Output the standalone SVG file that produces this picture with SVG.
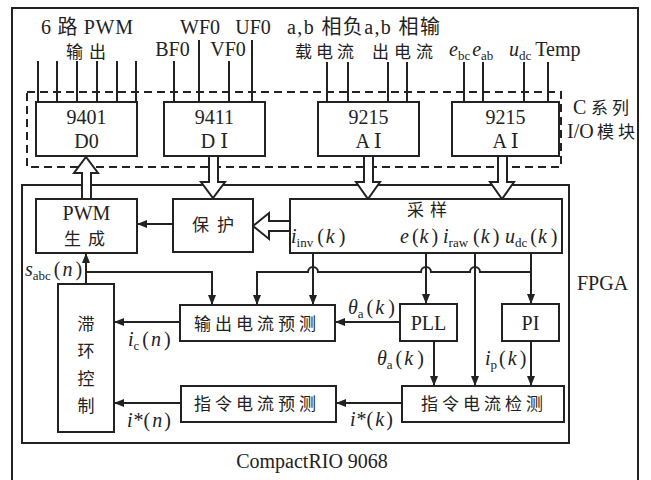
<svg xmlns="http://www.w3.org/2000/svg" width="651" height="480" viewBox="0 0 651 480">
<defs>
<style>
.b{fill:#fff;stroke:#222;stroke-width:2}
.l{fill:none;stroke:#222;stroke-width:2}
.la{fill:none;stroke:#222;stroke-width:2;marker-end:url(#ah)}
.d{fill:none;stroke:#222;stroke-width:2;stroke-dasharray:8 5}
.h{fill:#fff;stroke:#222;stroke-width:2;stroke-linejoin:miter}
text{font-family:"Liberation Serif","Noto Sans CJK SC",serif;font-size:20px;fill:#222}
.c{font-family:"Noto Sans CJK SC",sans-serif;font-size:17px}
.m{text-anchor:middle}
.i{font-style:italic}
.s{font-size:13px}
.r{font-family:"DejaVu Serif","Liberation Serif","Noto Sans CJK SC",serif}
</style>
<marker id="ah" markerWidth="10" markerHeight="8" refX="10" refY="4" orient="auto" markerUnits="userSpaceOnUse">
<path d="M0,0 L10,4 L0,8 z" fill="#222"/>
</marker>
</defs>

<rect id="compactrio" class="l" x="12" y="8" width="626" height="480"/>
<rect id="io-modules" class="d" x="27" y="92" width="534" height="75"/>
<rect id="fpga" class="l" x="22" y="185" width="547" height="258"/>

<g id="connectors">
<path class="l" d="M38,61V102M57,61V102M77,61V102M97,61V102M117,61V102M136,61V102"/>
<path class="l" d="M174,61V102M199,40V102M229,61V102M252,40V102"/>
<path class="l" d="M327,62V102M348,62V102M388,62V102M407,62V102"/>
<path class="l" d="M464,62V102M483,62V102M524,62V102M548,62V102"/>

<polygon class="h" points="82,199 82,173 74,173 86,157 98,173 91,173 91,199"/>
<polygon class="h" points="209,156 218,156 218,182 225,182 213,198 201,182 209,182"/>
<polygon class="h" points="364,156 373,156 373,182 380,182 368,199 356,182 364,182"/>
<polygon class="h" points="498,156 507,156 507,182 514,182 502,199 490,182 498,182"/>
<polygon class="h" points="290,221 269,221 269,213 253,226 269,239 269,231 290,231"/>

<line class="la" x1="173" y1="224" x2="137" y2="224"/>
<line class="la" x1="86" y1="284" x2="86" y2="253"/>
<path class="la" d="M86,272H212V305"/>
<line class="la" x1="313" y1="253" x2="313" y2="305"/>
<path class="la" d="M531,272H480A5,5 0 0 0 470,272H431A5,5 0 0 0 421,272H318A5,5 0 0 0 308,272H257V305"/>
<line class="la" x1="426" y1="253" x2="426" y2="304"/>
<line class="la" x1="475" y1="253" x2="475" y2="386"/>
<line class="la" x1="531" y1="253" x2="531" y2="304"/>
<line class="la" x1="400" y1="322" x2="335" y2="322"/>
<line class="la" x1="434" y1="341" x2="434" y2="386"/>
<line class="la" x1="531" y1="341" x2="531" y2="386"/>
<line class="la" x1="402" y1="403" x2="336" y2="403"/>
<line class="la" x1="180" y1="322" x2="114" y2="322"/>
<line class="la" x1="181" y1="403" x2="114" y2="403"/>
</g>

<g id="n9401"><rect class="b" x="36" y="102" width="101" height="54"/>
<text class="m" x="86.5" y="124">9401</text><text class="m" x="86.5" y="148">D0</text></g>
<g id="n9411"><rect class="b" x="164" y="102" width="101" height="54"/>
<text class="m" x="214.5" y="124">9411</text><text class="m" x="214.5" y="148">D <tspan class="r">Ⅰ</tspan></text></g>
<g id="n9215a"><rect class="b" x="318" y="102" width="101" height="54"/>
<text class="m" x="368.5" y="124">9215</text><text class="m" x="368.5" y="148">A <tspan class="r">Ⅰ</tspan></text></g>
<g id="n9215b"><rect class="b" x="452" y="102" width="107" height="54"/>
<text class="m" x="505.5" y="124">9215</text><text class="m" x="505.5" y="148">A <tspan class="r">Ⅰ</tspan></text></g>

<g id="pwm"><rect class="b" x="36" y="199" width="101" height="54"/>
<text class="m" x="86.5" y="220">PWM</text>
<text class="c" x="64" y="245" letter-spacing="7">生成</text></g>
<g id="protect"><rect class="b" x="173" y="199" width="80" height="53"/>
<text class="c" x="192" y="231" letter-spacing="8">保护</text></g>
<g id="sample"><rect class="b" x="290" y="199" width="272" height="54"/>
<text class="c" x="407" y="216" letter-spacing="6">采样</text>
<text x="291" y="243"><tspan class="i">i</tspan><tspan class="s" dy="4">inv</tspan><tspan dy="-4" dx="4">(</tspan><tspan class="i" dx="2">k</tspan><tspan dx="4">)</tspan></text>
<text x="400" y="243"><tspan class="i">e</tspan><tspan dx="3">(</tspan><tspan class="i" dx="1">k</tspan><tspan dx="3">)</tspan></text>
<text x="443" y="243"><tspan class="i">i</tspan><tspan class="s" dy="4">raw</tspan><tspan dy="-4" dx="5">(</tspan><tspan class="i" dx="1">k</tspan><tspan dx="3">)</tspan></text>
<text x="505" y="243"><tspan class="i">u</tspan><tspan class="s" dy="4">dc</tspan><tspan dy="-4" dx="3">(</tspan><tspan class="i" dx="1">k</tspan><tspan dx="4">)</tspan></text>
</g>
<g id="hysteresis"><rect class="b" x="58" y="284" width="56" height="148"/>
<text class="c m" x="86" y="330">滞</text><text class="c m" x="86" y="357">环</text>
<text class="c m" x="86" y="385">控</text><text class="c m" x="86" y="412">制</text></g>
<g id="out-pred"><rect class="b" x="180" y="305" width="155" height="36"/>
<text class="c" x="194" y="330" letter-spacing="4">输出电流预测</text></g>
<g id="pll"><rect class="b" x="400" y="304" width="57" height="37"/>
<text class="m" x="428.5" y="330">PLL</text></g>
<g id="pi"><rect class="b" x="502" y="304" width="57" height="37"/>
<text class="m" x="530.5" y="330">PI</text></g>
<g id="ref-pred"><rect class="b" x="181" y="386" width="155" height="36"/>
<text class="c" x="194" y="410" letter-spacing="4">指令电流预测</text></g>
<g id="ref-detect"><rect class="b" x="402" y="386" width="162" height="36"/>
<text class="c" x="421" y="410" letter-spacing="4">指令电流检测</text></g>

<g id="labels">
<text x="41" y="34" textLength="92" lengthAdjust="spacing">6 路 PWM</text>
<text class="c" x="66" y="58" letter-spacing="6">输出</text>
<text class="m" x="200" y="34">WF0</text>
<text class="m" x="253" y="34">UF0</text>
<text class="m" x="172.5" y="56">BF0</text>
<text class="m" x="228" y="56">VF0</text>
<text x="287" y="34" textLength="153" lengthAdjust="spacing">a,b 相负a,b 相输</text>
<text class="c" x="295" y="58" textLength="59" lengthAdjust="spacing">载电流</text>
<text class="c" x="372" y="58" textLength="61" lengthAdjust="spacing">出电流</text>
<text x="449" y="56"><tspan class="i">e</tspan><tspan class="s" dy="4">bc</tspan><tspan class="i" dy="-4" dx="2">e</tspan><tspan class="s" dy="4">ab</tspan></text>
<text x="509" y="56"><tspan class="i">u</tspan><tspan class="s" dy="4">dc</tspan><tspan dy="-4" dx="4">Temp</tspan></text>
<text x="573" y="114">C</text>
<text class="c" x="591" y="114" letter-spacing="4">系列</text>
<text x="567" y="138">I/O</text>
<text class="c" x="597" y="138" letter-spacing="4">模块</text>
<text x="577" y="290">FPGA</text>
<text class="m" x="312" y="468">CompactRIO 9068</text>
<text x="25" y="276"><tspan class="i">s</tspan><tspan class="s" dy="4">abc</tspan><tspan dy="-4" dx="3">(</tspan><tspan class="i" dx="2">n</tspan><tspan dx="3">)</tspan></text>
<text x="348" y="314"><tspan class="i">θ</tspan><tspan class="s" dy="4">a</tspan><tspan dy="-4" dx="3">(</tspan><tspan class="i" dx="2">k</tspan><tspan dx="4">)</tspan></text>
<text x="377" y="365"><tspan class="i">θ</tspan><tspan class="s" dy="4">a</tspan><tspan dy="-4" dx="3">(</tspan><tspan class="i" dx="2">k</tspan><tspan dx="4">)</tspan></text>
<text x="485" y="365"><tspan class="i">i</tspan><tspan class="s" dy="4">p</tspan><tspan dy="-4" dx="2">(</tspan><tspan class="i" dx="2">k</tspan><tspan dx="3">)</tspan></text>
<text x="350" y="426"><tspan class="i">i</tspan><tspan dx="1">*(</tspan><tspan class="i" dx="2">k</tspan><tspan dx="2">)</tspan></text>
<text x="128" y="346"><tspan class="i">i</tspan><tspan class="s" dy="4">c</tspan><tspan dy="-4" dx="3">(</tspan><tspan class="i" dx="2">n</tspan><tspan dx="3">)</tspan></text>
<text x="127" y="427"><tspan class="i">i</tspan><tspan dx="1">*(</tspan><tspan class="i" dx="2">n</tspan><tspan dx="2">)</tspan></text>
</g>
</svg>
